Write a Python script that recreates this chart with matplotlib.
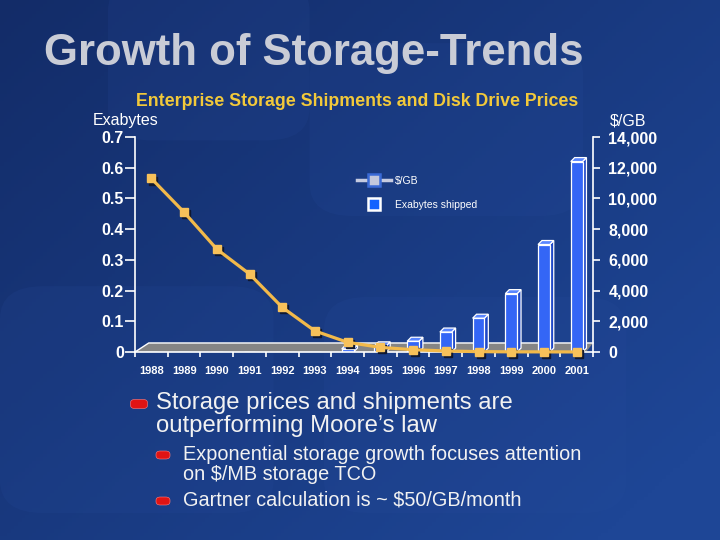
import numpy as np
import matplotlib
matplotlib.use("Agg")
import matplotlib.pyplot as plt
from matplotlib.patches import Polygon, FancyBboxPatch
from matplotlib.lines import Line2D
import matplotlib.transforms as mtransforms

# data
years = ["1988", "1989", "1990", "1991", "1992", "1993", "1994",
         "1995", "1996", "1997", "1998", "1999", "2000", "2001"]
exabytes = [0, 0, 0, 0, 0, 0, 0.01, 0.02, 0.035, 0.065, 0.11, 0.19, 0.35, 0.62]
price_gb = [11300, 9100, 6700, 5080, 2910, 1370, 630, 300, 150, 65, 25, 10, 8, 5]
left_ticks = [0, 0.1, 0.2, 0.3, 0.4, 0.5, 0.6, 0.7]
left_labels = ["0", "0.1", "0.2", "0.3", "0.4", "0.5", "0.6", "0.7"]
right_ticks = [0, 2000, 4000, 6000, 8000, 10000, 12000, 14000]
right_labels = ["0", "2,000", "4,000", "6,000", "8,000", "10,000", "12,000", "14,000"]
bullet_lines = ["Storage prices and shipments are", "outperforming Moore\u2019s law"]
sub_bullet_lines = [["Exponential storage growth focuses attention", "on $/MB storage TCO"],
                    ["Gartner calculation is ~ $50/GB/month"]]

plt.rcParams["font.family"] = ["Liberation Sans", "DejaVu Sans"]

W, H = 720, 540
fig = plt.figure(figsize=(7.2, 5.4), dpi=100)

# background
bg = fig.add_axes([0, 0, 1, 1])
bg.set_axis_off()
gx = np.linspace(0, 1, 200)
gy = np.linspace(0, 1, 150)
GX, GY = np.meshgrid(gx, gy)
t = np.clip(0.6 * GX + 0.5 * (1 - GY), 0, 1)
c0 = np.array([19, 44, 104]) / 255
c1 = np.array([30, 70, 150]) / 255
img = c0[None, None, :] * (1 - t[..., None]) + c1[None, None, :] * t[..., None]
bg.imshow(img, extent=[0, 1, 0, 1], aspect="auto", origin="lower")
for (x, y, w, h) in [(0.43, 0.60, 0.38, 0.32), (0.45, 0.05, 0.42, 0.40),
                     (0.0, 0.05, 0.38, 0.42), (0.15, 0.74, 0.28, 0.30)]:
    bg.add_patch(FancyBboxPatch((x, y), w, h, boxstyle="round,pad=0,rounding_size=0.06",
                                fc=(0.16, 0.30, 0.62), ec="none", alpha=0.16))
bg.set_xlim(0, 1)
bg.set_ylim(0, 1)

# titles
fig.text(44 / W, 1 - 53 / H, "Growth of Storage-Trends", fontsize=31.5,
         fontweight="bold", color="#c9ccd6", va="center")
fig.text(357 / W, 1 - 101 / H, "Enterprise Storage Shipments and Disk Drive Prices",
         fontsize=12.8, fontweight="bold", color="#f2c93a", ha="center", va="center")
fig.text(93 / W, 1 - 121 / H, "Exabytes", fontsize=11.5, color="white", va="center")
fig.text(646 / W, 1 - 121 / H, "$/GB", fontsize=11.5, color="white", va="center", ha="right")

# chart axes
ax = fig.add_axes([135 / W, 1 - 352 / H, (593 - 135) / W, (352 - 137) / H])
ax.patch.set_alpha(0)
x = np.arange(len(years))
ax.set_xlim(-0.5, len(years) - 0.5)
ax.set_ylim(0, 0.7)

# floor
floor = Polygon([(0, 0), (0.985, 0), (1.0, 0.042), (0.03, 0.042)], closed=True,
                transform=ax.transAxes, fc="#858585", ec="none", zorder=1)
ax.add_patch(floor)
ax.plot([0, 0.03, 1.0], [0, 0.042, 0.042], transform=ax.transAxes, color="white",
        lw=1, zorder=1.5, clip_on=False)

# bars with a 3D look
bw = 0.36
dx, dy = 0.12, 0.013
for xi, v in zip(x, exabytes):
    if v <= 0:
        continue
    l, r = xi - bw / 2, xi + bw / 2
    ax.add_patch(Polygon([(r, 0), (r + dx, dy), (r + dx, v + dy), (r, v)],
                         fc="#1d47c8", ec="white", lw=0.9, zorder=2))
    ax.add_patch(Polygon([(l, v), (r, v), (r + dx, v + dy), (l + dx, v + dy)],
                         fc="#5a86ff", ec="white", lw=0.9, zorder=2))
ax.bar(x, exabytes, width=bw, color="#3466f6", edgecolor="white", lw=0.9, zorder=2.1)

# $/GB line on the secondary axis
ax2 = ax.twinx()
ax2.set_ylim(0, 14000)
shadow = mtransforms.offset_copy(ax2.transData, fig=fig, x=1.5, y=-1.5, units="points")
ax2.plot(x, price_gb, ls="none", marker="s", ms=5.5, color="#101830", transform=shadow,
         zorder=3, clip_on=False)
ax2.plot(x, price_gb, color="#f2b94a", lw=2.3, marker="s", ms=5.5, mfc="#f7c15a",
         mec="#f7c15a", zorder=4, clip_on=False)

# axes styling
for a in (ax, ax2):
    a.spines["top"].set_visible(False)
    a.spines["left"].set_visible(a is ax)
    a.spines["right"].set_visible(a is ax2)
    for s in a.spines.values():
        s.set_linewidth(1.2)
        s.set_color("white")
ax2.spines["bottom"].set_visible(False)

ax.set_yticks(left_ticks)
ax.set_yticklabels(left_labels)
ax.tick_params(axis="y", colors="white", length=7, width=1.2, pad=1, labelsize=11.5)
for lab in ax.get_yticklabels():
    lab.set_fontweight("bold")
ax2.set_yticks(right_ticks)
ax2.set_yticklabels(right_labels)
ax2.tick_params(axis="y", colors="white", length=5, width=1.2, pad=6, labelsize=11.5)
for lab in ax2.get_yticklabels():
    lab.set_fontweight("bold")

ax.set_xticks(np.arange(len(years) + 1) - 0.5)
ax.set_xticklabels([])
ax.set_xticks(x, minor=True)
ax.set_xticklabels(years, minor=True)
ax.tick_params(axis="x", which="major", colors="white", length=3.5, width=1.2)
ax.tick_params(axis="x", which="minor", length=0, pad=10, labelsize=8, labelcolor="white")
for lab in ax.get_xticklabels(minor=True):
    lab.set_fontweight("bold")

# legend
handles = [Line2D([], [], color="#c6cbe0", lw=2.5, marker="s", ms=8, mfc="#c3c8dc",
                  mec="#3a6ad6", mew=1.8),
           Line2D([], [], ls="none", marker="s", ms=8, mfc="#1262ff", mec="white", mew=1.8)]
leg = ax.legend(handles, ["$/GB", "Exabytes shipped"], loc="upper left",
                bbox_to_anchor=(357 / W, 1 - 176 / H), bbox_transform=fig.transFigure,
                frameon=False, fontsize=7.5, labelcolor="white", handlelength=3.3,
                handletextpad=0.35, labelspacing=1.35, borderpad=0, borderaxespad=0)
leg.set_zorder(5)

# bullet points
def bullet(xc, yc, w, h):
    fig.patches.append(FancyBboxPatch(((xc - w / 2) / W, 1 - (yc + h / 2) / H), w / W, h / H,
                                      boxstyle="round,pad=0,rounding_size=0.006",
                                      fc="#e01414", ec="#ff8080", lw=0.4,
                                      transform=fig.transFigure))

bullet(139, 404, 17, 9)
for i, line in enumerate(bullet_lines):
    fig.text(156 / W, 1 - (403 + 23 * i) / H, line, fontsize=17.2, color="#f2f2f2",
             va="center")

y0 = 454
for lines in sub_bullet_lines:
    bullet(163, y0 + 1, 14, 8)
    for line in lines:
        fig.text(183 / W, 1 - y0 / H, line, fontsize=14.3, color="#f2f2f2", va="center")
        y0 += 21
    y0 += 4

fig.savefig("out.png", dpi=100)
